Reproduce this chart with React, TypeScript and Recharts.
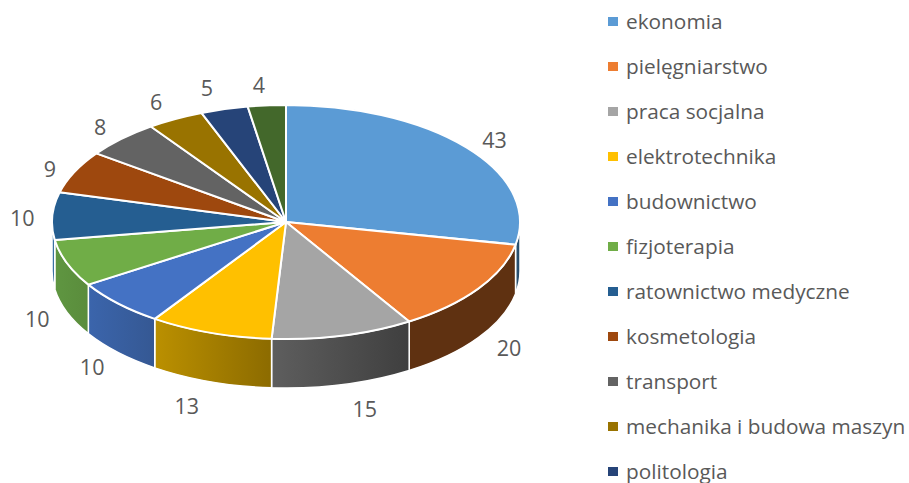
import { Legend, Pie, PieChart } from "recharts"

const categories = [
  "ekonomia",
  "pielęgniarstwo",
  "praca socjalna",
  "elektrotechnika",
  "budownictwo",
  "fizjoterapia",
  "ratownictwo medyczne",
  "kosmetologia",
  "transport",
  "mechanika i budowa maszyn",
  "politologia",
  "inne",
]
const values = [43, 20, 15, 13, 10, 10, 10, 9, 8, 6, 5, 4]
const colors = ["#5b9bd5", "#ed7d31", "#a5a5a5", "#ffc000", "#4472c4", "#70ad47", "#255e91", "#9e480e", "#636363", "#997300", "#264478", "#43682b"]
const wallFrom = ["#2d5575", "#5f3111", "#5e5e5e", "#bb9000", "#3b65ac", "#5f9641", "#4a80b4", "#9e480e", "#636363", "#997300", "#264478", "#43682b"]
const wallTo = ["#264a68", "#5f3111", "#3f3f3f", "#8c6b00", "#355893", "#5a8c3c", "#2c6596", "#9e480e", "#636363", "#997300", "#264478", "#43682b"]
// hand placement of the value labels, relative to the ellipse around the pie
const labelNudges = [[0, 0], [1, 2], [13, 11], [-12, 11], [0, 5], [4, 2], [6, 2], [8, 2], [4, -3], [-2, -6], [-8, -9], [-5, -8]]

const data = categories.map((name, i) => ({ name, value: values[i], fill: colors[i] }))

const FONT = "'Open Sans', sans-serif"
const TEXT = "#595959"
const TILT = 0.5
const DEPTH = 49

const rad = (deg: number) => (deg * Math.PI) / 180

function Slice(props: any) {
  const { cx, cy, outerRadius, startAngle, endAngle, fill, index } = props
  const rx = outerRadius
  const ry = outerRadius * TILT
  const px = (a: number) => cx + rx * Math.cos(rad(a))
  const py = (a: number) => cy - ry * Math.sin(rad(a))
  const large = Math.abs(endAngle - startAngle) > 180 ? 1 : 0

  // only the front half of the rim shows a wall
  const hi = Math.min(startAngle, 0)
  const lo = Math.max(endAngle, -180)
  const id = `wall-${index}`

  return (
    <g>
      {hi > lo && (
        <>
          <defs>
            <linearGradient id={id} x1="0" y1="0" x2="1" y2="0">
              <stop offset="0" stopColor={wallFrom[index]} />
              <stop offset="1" stopColor={wallTo[index]} />
            </linearGradient>
          </defs>
          <path
            d={`M${px(hi)},${py(hi)} A${rx},${ry} 0 0 1 ${px(lo)},${py(lo)} L${px(lo)},${py(lo) + DEPTH} A${rx},${ry} 0 0 0 ${px(hi)},${py(hi) + DEPTH} Z`}
            fill={`url(#${id})`}
            stroke="#fff"
            strokeWidth={1.5}
          />
        </>
      )}
      <path
        d={`M${cx},${cy} L${px(startAngle)},${py(startAngle)} A${rx},${ry} 0 ${large} 1 ${px(endAngle)},${py(endAngle)} Z`}
        fill={fill}
        stroke="#fff"
        strokeWidth={2}
        strokeLinejoin="round"
      />
    </g>
  )
}

function ValueLabel(props: any) {
  const { cx, cy, midAngle, index, value } = props
  const s = Math.sin(rad(midAngle))
  const x = cx + 270 * Math.cos(rad(midAngle)) + labelNudges[index][0]
  const y = cy - 130 * s + (s < 0 ? DEPTH : 0) + labelNudges[index][1]
  return (
    <text x={x} y={y} textAnchor="middle" dominantBaseline="central" fontFamily={FONT} fontSize={21.5} fill={TEXT}>
      {value}
    </text>
  )
}

function LegendList({ payload }: any) {
  // the reference legend runs out of room before the last entry
  return (
    <div style={{ fontFamily: FONT, fontSize: 20.8, color: TEXT }}>
      {(payload || []).slice(0, 11).map((item: any) => (
        <div key={item.value} style={{ height: 45, display: "flex", alignItems: "center", whiteSpace: "nowrap" }}>
          <span style={{ width: 10, height: 9, background: item.color, marginRight: 8, marginTop: 2, flex: "none" }} />
          {item.value}
        </div>
      ))}
    </div>
  )
}

export default function App() {
  return (
    <div style={{ position: "absolute", left: 0, top: 0, width: 909, height: 483, overflow: "hidden", background: "#fff" }}>
      <PieChart width={909} height={483} margin={{ top: 0, right: 0, bottom: 0, left: 0 }}>
        <Pie
          data={data}
          dataKey="value"
          nameKey="name"
          cx={286}
          cy={222}
          outerRadius={234}
          startAngle={90}
          endAngle={-270}
          shape={Slice}
          label={ValueLabel}
          labelLine={false}
          isAnimationActive={false}
        />
        <Legend
          layout="vertical"
          align="right"
          verticalAlign="top"
          itemSorter={null}
          content={LegendList}
          wrapperStyle={{ left: 608, top: -2, width: 301, margin: 0 }}
        />
      </PieChart>
    </div>
  )
}
